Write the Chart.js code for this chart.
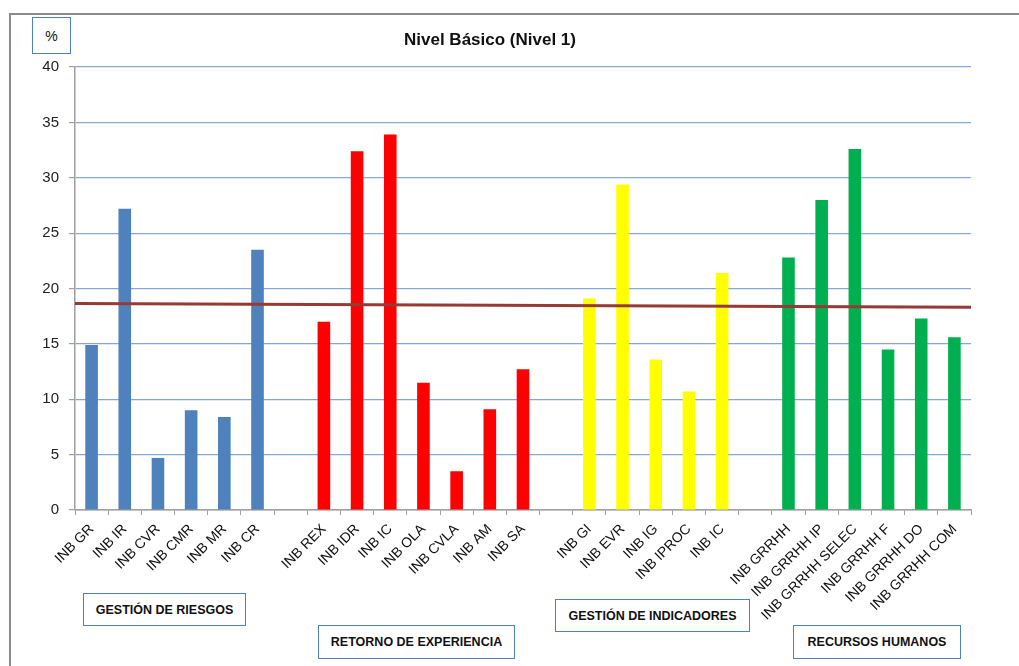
<!DOCTYPE html>
<html>
<head>
<meta charset="utf-8">
<script src="https://cdn.jsdelivr.net/npm/chart.js@4"></script>
<style>
  body { margin:0; background:#fff; font-family:"Liberation Sans", Arial, sans-serif; }
  #wrap { position:relative; width:1019px; height:666px; overflow:hidden; }
  #frame { position:absolute; left:9px; top:13px; width:1100px; height:700px; border:2px solid #8c8c8c; }
  canvas { position:absolute; left:0; top:0; }
  .box { position:absolute; background:#fff; border:1.5px solid #4f81bd; font-weight:bold; font-size:12.5px;
         display:flex; align-items:center; justify-content:center; color:#111; box-sizing:border-box; }
  #title { position:absolute; left:340px; width:300px; top:30px; text-align:center; font-weight:bold; font-size:17px; color:#111; }
</style>
</head>
<body>
<div id="wrap">
  <div id="frame"></div>
  <canvas id="chart" width="1019" height="666"></canvas>
  <div id="title">Nivel Básico (Nivel 1)</div>
  <div class="box" style="left:32px;top:17px;width:39px;height:37px;font-size:14px;font-weight:normal;">%</div>
  <div class="box" style="left:83px;top:593px;width:163px;height:33px;">GESTIÓN DE RIESGOS</div>
  <div class="box" style="left:318px;top:625px;width:197px;height:34px;">RETORNO DE EXPERIENCIA</div>
  <div class="box" style="left:555px;top:599px;width:195px;height:33px;">GESTIÓN DE INDICADORES</div>
  <div class="box" style="left:793px;top:625px;width:168px;height:34px;">RECURSOS HUMANOS</div>
</div>
<script>
// group data
var riesgosLabels = ["INB GR", "INB IR", "INB CVR", "INB CMR", "INB MR", "INB CR"];
var riesgosValues = [14.9, 27.2, 4.7, 9.0, 8.4, 23.5];
var retornoLabels = ["INB REX", "INB IDR", "INB IC", "INB OLA", "INB CVLA", "INB AM", "INB SA"];
var retornoValues = [17.0, 32.4, 33.9, 11.5, 3.5, 9.1, 12.7];
var indicadoresLabels = ["INB GI", "INB EVR", "INB IG", "INB IPROC", "INB IC"];
var indicadoresValues = [19.1, 29.4, 13.6, 10.7, 21.4];
var rrhhLabels = ["INB GRRHH", "INB GRRHH IP", "INB GRRHH SELEC", "INB GRRHH F", "INB GRRHH DO", "INB GRRHH COM"];
var rrhhValues = [22.8, 28.0, 32.6, 14.5, 17.3, 15.6];
// trend line ends (left, right)
var trendValues = [18.65, 18.3];
var yTicks = [0, 5, 10, 15, 20, 25, 30, 35, 40];

var groups = [
  { labels: riesgosLabels, values: riesgosValues, color: "#4f81bd" },
  { labels: retornoLabels, values: retornoValues, color: "#ff0000" },
  { labels: indicadoresLabels, values: indicadoresValues, color: "#ffff00" },
  { labels: rrhhLabels, values: rrhhValues, color: "#00b050" }
];

var labelset = [], dataset = [], colorset = [];
groups.forEach(function(g, gi) {
  if (gi > 0) { labelset.push(""); dataset.push(null); colorset.push("#fff"); }
  g.labels.forEach(function(l, i) {
    labelset.push(l);
    dataset.push(g.values[i]);
    colorset.push(g.color);
  });
});

new Chart(document.getElementById("chart"), {
  type: "bar",
  data: {
    labels: labelset,
    datasets: [{
      type: "line",
      data: [{ x: 0, y: trendValues[0] }, { x: 1, y: trendValues[1] }],
      xAxisID: "xt",
      borderColor: "#973a36",
      borderWidth: 3,
      pointRadius: 0,
      order: 0
    }, {
      data: dataset,
      backgroundColor: colorset,
      categoryPercentage: 1,
      barPercentage: 0.38,
      grouped: false,
      order: 1
    }]
  },
  options: {
    responsive: false,
    animation: false,
    layout: { padding: { left: 0, top: 67, right: 48, bottom: 0 } },
    plugins: { legend: { display: false }, tooltip: { enabled: false }, title: { display: false } },
    scales: {
      x: {
        grid: { drawOnChartArea: false, offset: true, tickLength: 5, color: "#a0a0a0" },
        border: { color: "#a0a0a0", width: 1.5 },
        ticks: { minRotation: 45, maxRotation: 45, autoSkip: false, color: "#111",
                 font: { family: "Liberation Sans", size: 14 }, padding: 6 },
        afterFit: function(s) { s.height = 156; }
      },
      xt: { type: "linear", display: false, min: 0, max: 1, offset: false, grid: { offset: false } },
      y: {
        min: 0, max: 40,
        afterBuildTicks: function(s) { s.ticks = yTicks.map(function(v) { return { value: v }; }); },
        grid: {
          color: function(c) { return c.tick && c.tick.value === 0 ? "#a0a0a0" : "#86a8d8"; },
          lineWidth: 1.2, tickLength: 6, tickColor: "#a0a0a0"
        },
        border: { color: "#a0a0a0", width: 1.5 },
        ticks: { color: "#222", font: { family: "Liberation Sans", size: 15 }, padding: 10 },
        afterFit: function(s) { s.width = 75; }
      }
    }
  }
});
</script>
</body>
</html>
